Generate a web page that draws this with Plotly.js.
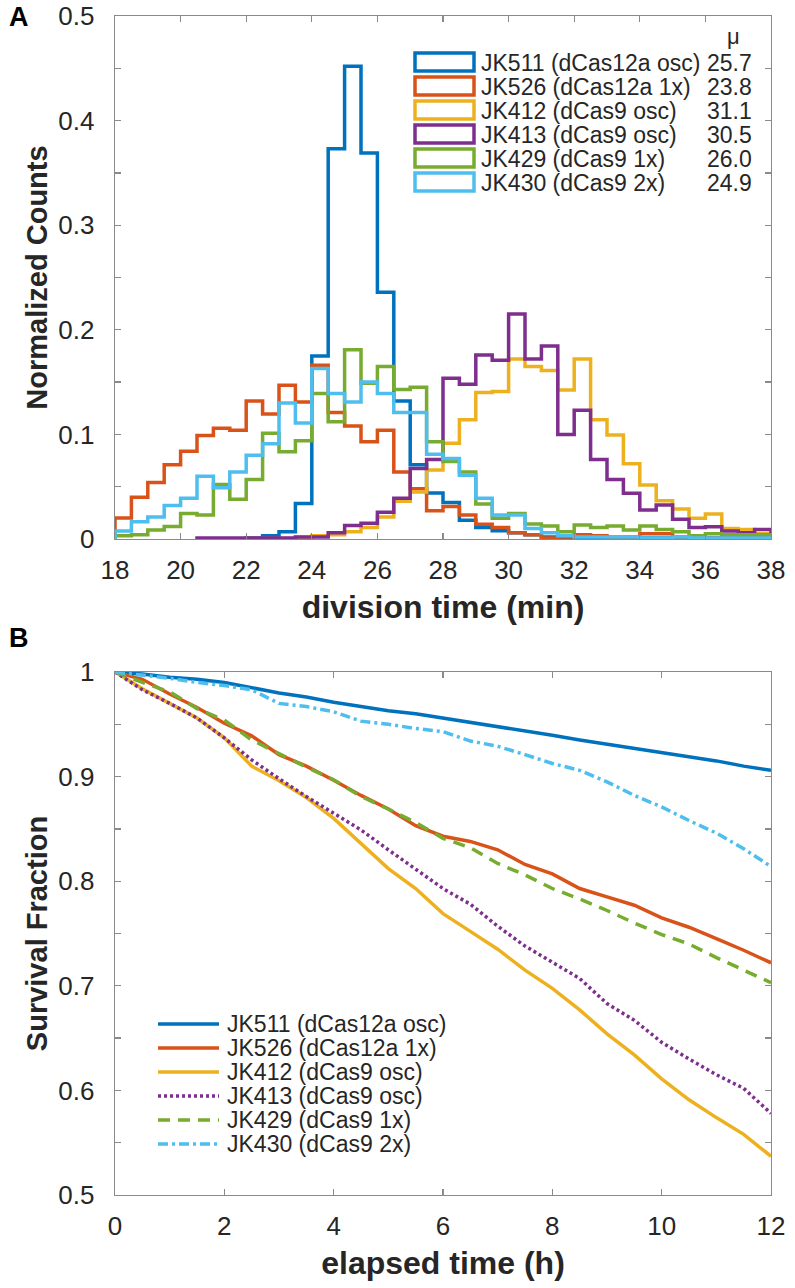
<!DOCTYPE html>
<html>
<head>
<meta charset="utf-8">
<script src="https://cdn.plot.ly/plotly-3.0.1.min.js"></script>
<style>html,body{margin:0;padding:0;background:#fff}</style>
</head>
<body>
<div id="plot" style="width:795px;height:1288px"></div>
<script>
// strains, same order in both panels
var strains = ['JK511 (dCas12a osc)', 'JK526 (dCas12a 1x)', 'JK412 (dCas9 osc)',
               'JK413 (dCas9 osc)', 'JK429 (dCas9 1x)', 'JK430 (dCas9 2x)'];
var colors = ['#0072BD', '#D95319', '#EDB120', '#7E2F8E', '#77AC30', '#4DBEEE'];
var meanDiv = ['25.7', '23.8', '31.1', '30.5', '26.0', '24.9'];

// panel A: division time histograms (0.5 min bins, null = no bin)
var binEdges = [18, 18.5, 19, 19.5, 20, 20.5, 21, 21.5, 22, 22.5, 23, 23.5, 24, 24.5,
                25, 25.5, 26, 26.5, 27, 27.5, 28, 28.5, 29, 29.5, 30, 30.5, 31, 31.5,
                32, 32.5, 33, 33.5, 34, 34.5, 35, 35.5, 36, 36.5, 37, 37.5, 38];
var hist511 = [null, null, null, null, null, null, null, null, 0.001, 0.003, 0.007, 0.034,
               0.175, 0.373, 0.452, 0.369, 0.236, 0.132, 0.071, 0.044, 0.035, 0.018, 0.011,
               0.008, 0.006, 0.004, 0.002, 0.001, 0.001, 0.001, 0.001, 0.001, 0.001, 0.001,
               0.001, 0.001, 0.001, 0.001, 0.001, 0.001];
var hist526 = [0.020, 0.040, 0.054, 0.071, 0.084, 0.099, 0.106, 0.104, 0.132, 0.1195,
               0.147, 0.131, 0.166, 0.121, 0.108, 0.093, 0.104, 0.064, 0.048, 0.027,
               0.031, 0.023, 0.014, 0.011, 0.006, 0.004, 0.001, 0.002, 0.004, 0.003,
               0.002, 0.002, 0.005, 0.005, 0.002, 0.001, 0.001, 0.001, 0.001, 0.001];
var hist412 = [null, null, null, null, null, null, null, null, 0.0005, 0.0005, 0.0006, 0.0016,
               0.003, 0.004, 0.007, 0.011, 0.021, 0.036, 0.045, 0.066, 0.0915, 0.114,
               0.140, 0.141, 0.172, 0.165, 0.161, 0.1425, 0.172, 0.114, 0.0994, 0.072,
               0.0516, 0.0366, 0.0287, 0.0198, 0.024, 0.010, 0.009, 0.005];
var hist413 = [null, null, null, null, null, 0.001, 0.001, 0.001, 0.001, 0.001, 0.001, 0.002,
               0.002, 0.006, 0.013, 0.015, 0.0255, 0.039, 0.0675, 0.076, 0.1536, 0.148,
               0.176, 0.171, 0.215, 0.172, 0.1845, 0.100, 0.123, 0.076, 0.057, 0.0437,
               0.0277, 0.0325, 0.0188, 0.011, 0.0118, 0.0076, 0.006, 0.009];
var hist429 = [0.003, 0.004, 0.0086, 0.012, 0.0245, 0.023, 0.052, 0.038, 0.057, 0.101,
               0.0835, 0.094, 0.139, 0.112, 0.181, 0.149, 0.165, 0.143, 0.145, 0.093,
               0.074, 0.064, 0.0335, 0.0198, 0.0245, 0.0143, 0.0124, 0.007, 0.0134, 0.011,
               0.0124, 0.0086, 0.0124, 0.009, 0.007, 0.003, 0.005, 0.004, 0.004, 0.004];
var hist430 = [0.0076, 0.0166, 0.021, 0.032, 0.039, 0.060, 0.049, 0.064, 0.080, 0.091,
               0.130, 0.111, 0.163, 0.139, 0.131, 0.150, 0.139, 0.121, 0.121, 0.081,
               0.077, 0.061, 0.039, 0.023, 0.023, 0.010, 0.006, 0.003, 0.002, 0.002,
               0.002, 0.002, 0.001, 0.001, 0.002, 0.001, 0.001, 0.001, 0.001, 0.001];

// panel B: survival fraction vs elapsed time
var hours = [0, 0.5, 1, 1.5, 2, 2.5, 3, 3.5, 4, 4.5, 5, 5.5, 6, 6.5, 7, 7.5, 8, 8.5,
             9, 9.5, 10, 10.5, 11, 11.5, 12];
var surv511 = [1.0, 0.998, 0.995, 0.993, 0.990, 0.985, 0.980, 0.976, 0.971, 0.967, 0.963,
               0.960, 0.956, 0.952, 0.948, 0.944, 0.9395, 0.935, 0.931, 0.927, 0.9236,
               0.919, 0.915, 0.910, 0.906];
var surv526 = [1.0, 0.993, 0.979, 0.966, 0.951, 0.939, 0.921, 0.910, 0.8965, 0.882, 0.869,
               0.853, 0.843, 0.838, 0.830, 0.816, 0.807, 0.793, 0.785, 0.777, 0.765,
               0.756, 0.745, 0.734, 0.722];
var surv412 = [1.0, 0.984, 0.970, 0.956, 0.937, 0.910, 0.896, 0.880, 0.860, 0.836, 0.812,
               0.793, 0.769, 0.752, 0.735, 0.715, 0.6975, 0.677, 0.654, 0.634, 0.611,
               0.591, 0.574, 0.558, 0.537];
var surv413 = [1.0, 0.983, 0.970, 0.956, 0.937, 0.916, 0.898, 0.881, 0.865, 0.849, 0.830,
               0.811, 0.793, 0.778, 0.757, 0.738, 0.7225, 0.707, 0.683, 0.667, 0.646,
               0.630, 0.615, 0.602, 0.578];
var surv429 = [1.0, 0.990, 0.981, 0.965, 0.954, 0.935, 0.922, 0.909, 0.897, 0.881, 0.869,
               0.856, 0.841, 0.832, 0.817, 0.806, 0.793, 0.783, 0.772, 0.760, 0.749,
               0.740, 0.727, 0.715, 0.703];
var surv430 = [1.0, 0.997, 0.994, 0.990, 0.987, 0.983, 0.970, 0.967, 0.962, 0.953, 0.950,
               0.946, 0.943, 0.934, 0.929, 0.921, 0.9125, 0.906, 0.895, 0.882, 0.871,
               0.858, 0.846, 0.831, 0.814];

var hists = [hist511, hist526, hist412, hist413, hist429, hist430];
var survs = [surv511, surv526, surv412, surv413, surv429, surv430];
var dashes = ['solid', 'solid', 'solid', '3px,3px', '12px,8px', '10px,4px,3px,4px'];

var FONT = 'Liberation Sans, Arial, Helvetica, sans-serif';
var TXT = '#262626';
var AX = '#8a8a8a';

// outline of a histogram, like matlab 'stairs'
function stairs(vals) {
  var xs = [], ys = [];
  var s = 0;
  while (vals[s] === null) s++;
  xs.push(binEdges[s]); ys.push(0);
  for (var i = s; i < vals.length; i++) {
    xs.push(binEdges[i]);
    ys.push(vals[i]);
  }
  xs.push(binEdges[vals.length]); ys.push(0);
  return { x: xs, y: ys };
}

// pixel -> paper helpers for the hand made legends
function px(x) { return (x - 115) / 656; }
function py(y) { return (1195 - y) / 1179; }

var traces = [];
for (var k = 0; k < hists.length; k++) {
  var st = stairs(hists[k]);
  traces.push({
    x: st.x, y: st.y, xaxis: 'x', yaxis: 'y',
    mode: 'lines', name: strains[k], showlegend: false,
    line: { shape: 'hv', color: colors[k], width: 3.5 },
  });
}
for (var k = 0; k < survs.length; k++) {
  traces.push({
    x: hours, y: survs[k], xaxis: 'x2', yaxis: 'y2',
    mode: 'lines', name: strains[k], showlegend: false,
    line: { color: colors[k], width: 3.5, dash: dashes[k] },
  });
}

var shapes = [];
var annotations = [];

// legend A: outlined boxes + names + mean division time
annotations.push({ xref: 'paper', yref: 'paper', x: px(733), y: py(37), text: 'μ',
  showarrow: false, xanchor: 'center', yanchor: 'middle', font: { family: FONT, size: 22, color: TXT } });
for (var k = 0; k < strains.length; k++) {
  var yc = 62 + 24 * k;
  shapes.push({ type: 'rect', xref: 'paper', yref: 'paper',
    x0: px(415), x1: px(474), y0: py(yc - 9), y1: py(yc + 9),
    line: { color: colors[k], width: 3.5 }, fillcolor: 'rgba(0,0,0,0)' });
  annotations.push({ xref: 'paper', yref: 'paper', x: px(479), y: py(yc + 1), text: strains[k],
    showarrow: false, xanchor: 'left', yanchor: 'middle', font: { family: FONT, size: 23, color: TXT } });
  annotations.push({ xref: 'paper', yref: 'paper', x: px(754), y: py(yc + 1), text: meanDiv[k],
    showarrow: false, xanchor: 'right', yanchor: 'middle', font: { family: FONT, size: 23, color: TXT } });
}

// legend B: line samples + names
for (var k = 0; k < strains.length; k++) {
  var yc = 1024 + 24 * k;
  shapes.push({ type: 'line', xref: 'paper', yref: 'paper',
    x0: px(158), x1: px(219), y0: py(yc), y1: py(yc),
    line: { color: colors[k], width: 3.5, dash: dashes[k] } });
  annotations.push({ xref: 'paper', yref: 'paper', x: px(225), y: py(yc), text: strains[k],
    showarrow: false, xanchor: 'left', yanchor: 'middle', font: { family: FONT, size: 23, color: TXT } });
}

// panel letters
annotations.push({ xref: 'paper', yref: 'paper', x: px(19), y: py(17), text: '<b>A</b>',
  showarrow: false, xanchor: 'center', yanchor: 'middle', font: { family: FONT, size: 27, color: '#000' } });
annotations.push({ xref: 'paper', yref: 'paper', x: px(19), y: py(638), text: '<b>B</b>',
  showarrow: false, xanchor: 'center', yanchor: 'middle', font: { family: FONT, size: 27, color: '#000' } });

var tickFont = { family: FONT, size: 26, color: TXT };
var titleFont = { family: FONT, size: 32, color: TXT };
var yTitleFont = { family: FONT, size: 29, color: TXT };

function axisBase() {
  return {
    showline: true, linecolor: AX, linewidth: 1.3, mirror: 'ticks',
    ticks: 'inside', ticklen: 6, tickcolor: AX, tickwidth: 1.3,
    showgrid: false, zeroline: false, tickfont: tickFont, fixedrange: true,
  };
}

var xA = axisBase();
xA.range = [18, 38];
xA.tickvals = [18, 20, 22, 24, 26, 28, 30, 32, 34, 36, 38];
xA.ticklabelstandoff = 7;
xA.anchor = 'y';
xA.title = { text: '<b>division time (min)</b>', font: titleFont, standoff: 12 };

var yA = axisBase();
yA.range = [0, 0.5];
yA.domain = [0.5564, 1];
yA.tickvals = [0, 0.05, 0.1, 0.15, 0.2, 0.25, 0.3, 0.35, 0.4, 0.45, 0.5];
yA.ticktext = ['0', '', '0.1', '', '0.2', '', '0.3', '', '0.4', '', '0.5'];
yA.ticklabelstandoff = 14;
yA.anchor = 'x';
yA.title = { text: '<b>Normalized Counts</b>', font: yTitleFont, standoff: 2 };

var xB = axisBase();
xB.range = [0, 12];
xB.tickvals = [0, 2, 4, 6, 8, 10, 12];
xB.ticklabelstandoff = 7;
xB.anchor = 'y2';
xB.title = { text: '<b>elapsed time (h)</b>', font: titleFont, standoff: 12 };

var yB = axisBase();
yB.range = [0.5, 1];
yB.domain = [0, 0.4436];
yB.tickvals = [0.5, 0.55, 0.6, 0.65, 0.7, 0.75, 0.8, 0.85, 0.9, 0.95, 1];
yB.ticktext = ['0.5', '', '0.6', '', '0.7', '', '0.8', '', '0.9', '', '1'];
yB.ticklabelstandoff = 14;
yB.anchor = 'x2';
yB.title = { text: '<b>Survival Fraction</b>', font: yTitleFont, standoff: 2 };

var layout = {
  width: 795, height: 1288,
  margin: { l: 115, r: 24, t: 16, b: 93 },
  paper_bgcolor: '#fff', plot_bgcolor: '#fff',
  showlegend: false,
  xaxis: xA, yaxis: yA, xaxis2: xB, yaxis2: yB,
  shapes: shapes, annotations: annotations,
};

Plotly.newPlot('plot', traces, layout, { displayModeBar: false, staticPlot: true });
</script>
</body>
</html>
